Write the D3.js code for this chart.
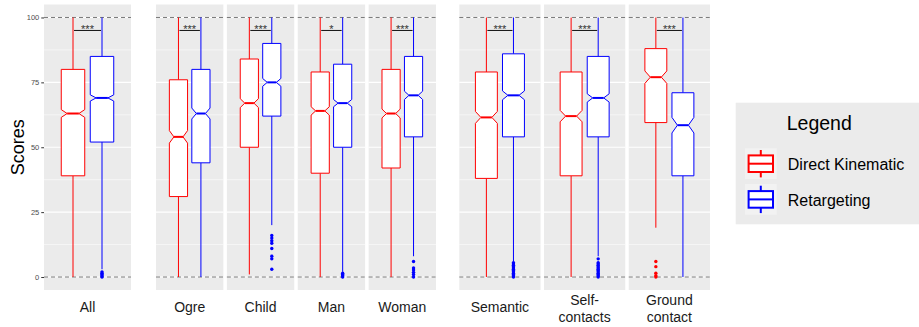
<!DOCTYPE html>
<html>
<head>
<meta charset="utf-8">
<script src="https://cdn.jsdelivr.net/npm/d3@7"></script>
<style>
  body { margin: 0; background: #fff; }
  svg { display: block; font-family: "Liberation Sans", Arial, Helvetica, sans-serif; }
</style>
</head>
<body>
<script>
// facets, in order, and which block of the figure each one sits in
const panels = ["All", "Ogre", "Child", "Man", "Woman", "Semantic", "Self-contacts", "Ground contact"];
const panelGroup = [0, 1, 1, 1, 1, 2, 2, 2];
const series = ["Direct Kinematic", "Retargeting"];
const colors = ["#ff0000", "#0000ff"];

// Direct Kinematic box stats
const dkLow   = [0, 0, 1, 0, 0, 0, 0, 19];
const dkQ1    = [39, 31, 50, 40, 42, 38, 39, 59.5];
const dkMed   = [63, 54, 67, 64, 63, 61.5, 62, 77];
const dkQ3    = [80, 76, 84, 79, 80, 79, 79, 88];
const dkHigh  = [100, 100, 100, 100, 100, 100, 100, 100];
const dkNotch = [1.5, 2.4, 1.7, 1.6, 1.7, 2.3, 2.2, 2.4];
const dkOut   = [[], [], [], [], [], [], [], [6, 4, 1.5, 0.5, 0]];

// Retargeting box stats
const rtLow   = [3, 0, 20, 2, 8, 6, 8, 0];
const rtQ1    = [52, 44, 62, 50, 54, 54, 54, 39];
const rtMed   = [69, 63, 75, 67, 70, 70, 69, 58.5];
const rtQ3    = [85, 80, 90, 82, 85, 86, 85, 71];
const rtHigh  = [100, 100, 100, 100, 100, 100, 100, 100];
const rtNotch = [1.2, 2.1, 1.5, 1.4, 1.6, 1.7, 1.6, 3];
const rtOut   = [
  [2, 1.5, 1, 0.5, 0],
  [],
  [16, 15, 14, 13, 11, 8, 7, 3],
  [1.5, 1, 0.5, 0],
  [6, 3.5, 2.7, 1.8, 1, 0],
  [5.5, 5, 4.5, 4, 3.5, 3, 2.5, 2, 1.5, 1, 0.5, 0],
  [7, 5.5, 5, 4.5, 4, 3.5, 3, 2.5, 2, 1.5, 1, 0.5, 0],
  []
];

const sigLabels = ["***", "***", "***", "*", "***", "***", "***", "***"];
const sigValue = 95;
const yTicks = [0, 25, 50, 75, 100];
const yMinor = [12.5, 37.5, 62.5, 87.5];
const refLines = [0, 100];

const width = 919, height = 327;
const groupRange = [[44, 131], [156, 436], [459.3, 710]];
const panelGap = 3.5;

const svg = d3.select("body").append("svg")
    .attr("width", width)
    .attr("height", height);

const y = d3.scaleLinear().domain([-5, 105]).range([290, 4.5]);

// one band scale per block of facets
const groupScales = groupRange.map((r, g) => {
  const names = panels.filter((p, i) => panelGroup[i] === g);
  const n = names.length;
  const step = (r[1] - r[0] + panelGap) / n;
  return d3.scaleBand().domain(names).range(r).paddingInner(n > 1 ? panelGap / step : 0);
});

const stats = panels.map((p, i) => [
  {low: dkLow[i], q1: dkQ1[i], med: dkMed[i], q3: dkQ3[i], high: dkHigh[i], notch: dkNotch[i], out: dkOut[i]},
  {low: rtLow[i], q1: rtQ1[i], med: rtMed[i], q3: rtQ3[i], high: rtHigh[i], notch: rtNotch[i], out: rtOut[i]}
]);

panels.forEach((name, i) => {
  const band = groupScales[panelGroup[i]];
  const x0 = band(name), w = band.bandwidth();
  const xs = d3.scalePoint().domain(series).range([x0, x0 + w]).padding(1);
  const boxW = w * 0.27;

  const g = svg.append("g");

  g.append("rect")
      .attr("x", x0).attr("y", y(105))
      .attr("width", w).attr("height", y(-5) - y(105))
      .attr("fill", "#ebebeb");

  g.selectAll("line.minor").data(yMinor).join("line")
      .attr("x1", x0).attr("x2", x0 + w)
      .attr("y1", d => y(d)).attr("y2", d => y(d))
      .attr("stroke", "#fff").attr("stroke-width", 0.55);

  g.selectAll("line.major").data(yTicks).join("line")
      .attr("x1", x0).attr("x2", x0 + w)
      .attr("y1", d => y(d)).attr("y2", d => y(d))
      .attr("stroke", "#fff").attr("stroke-width", 1.1);

  g.selectAll("line.ref").data(refLines).join("line")
      .attr("x1", x0).attr("x2", x0 + w)
      .attr("y1", d => y(d)).attr("y2", d => y(d))
      .attr("stroke", "#7a7a7a").attr("stroke-width", 1)
      .attr("stroke-dasharray", "4,3");

  stats[i].forEach((s, k) => {
    const cx = xs(series[k]);
    const col = colors[k];
    const l = cx - boxW / 2, r = cx + boxW / 2, ins = boxW * 0.25;

    // whiskers
    g.append("line").attr("x1", cx).attr("x2", cx)
        .attr("y1", y(s.q3)).attr("y2", y(s.high))
        .attr("stroke", col).attr("stroke-width", 1);
    g.append("line").attr("x1", cx).attr("x2", cx)
        .attr("y1", y(s.q1)).attr("y2", y(s.low))
        .attr("stroke", col).attr("stroke-width", 1);

    // notched box
    const pts = [
      [l, y(s.q3)], [r, y(s.q3)], [r, y(s.med + s.notch)], [r - ins, y(s.med)],
      [r, y(s.med - s.notch)], [r, y(s.q1)], [l, y(s.q1)], [l, y(s.med - s.notch)],
      [l + ins, y(s.med)], [l, y(s.med + s.notch)]
    ];
    g.append("path")
        .attr("d", d3.line()(pts) + "Z")
        .attr("fill", "#fff").attr("stroke", col).attr("stroke-width", 1);
    g.append("line")
        .attr("x1", l + ins).attr("x2", r - ins)
        .attr("y1", y(s.med)).attr("y2", y(s.med))
        .attr("stroke", col).attr("stroke-width", 2);

    g.selectAll(null).data(s.out).join("circle")
        .attr("cx", cx).attr("cy", d => y(d)).attr("r", 1.7)
        .attr("fill", col);
  });

  // significance bracket
  g.append("line")
      .attr("x1", xs(series[0]) + 1).attr("x2", xs(series[1]) - 1)
      .attr("y1", y(sigValue)).attr("y2", y(sigValue))
      .attr("stroke", "#111").attr("stroke-width", 1);
  g.append("text")
      .attr("x", (xs(series[0]) + xs(series[1])) / 2)
      .attr("y", y(sigValue) + 2.5)
      .attr("text-anchor", "middle")
      .attr("font-size", 11)
      .attr("fill", "#333")
      .text(sigLabels[i]);

  // facet label underneath
  const lines = name === "Self-contacts" ? ["Self-", "contacts"]
      : name === "Ground contact" ? ["Ground", "contact"] : [name];
  g.append("text")
      .attr("text-anchor", "middle")
      .attr("font-size", 14)
      .attr("fill", "#1a1a1a")
    .selectAll("tspan").data(lines).join("tspan")
      .attr("x", x0 + w / 2)
      .attr("y", (d, j) => lines.length === 1 ? 312 : 305 + j * 16.5)
      .text(d => d);
});

// y axis on the first block only
const yAxis = svg.append("g")
    .attr("transform", `translate(${groupRange[0][0]},0)`)
    .call(d3.axisLeft(y).tickValues(yTicks).tickSize(2.75).tickPadding(2));
yAxis.select(".domain").remove();
yAxis.selectAll(".tick line").attr("stroke", "#333");
yAxis.selectAll(".tick text")
    .attr("fill", "#4d4d4d")
    .attr("font-size", 7.5)
    .attr("font-family", "'Liberation Sans', Arial, sans-serif");

svg.append("text")
    .attr("transform", `translate(24,${(y(0) + y(100)) / 2}) rotate(-90)`)
    .attr("text-anchor", "middle")
    .attr("font-size", 18)
    .attr("fill", "#000")
    .text("Scores");

// legend
const legend = svg.append("g");
legend.append("rect")
    .attr("x", 735.7).attr("y", 102.7)
    .attr("width", 183.3).attr("height", 121.6)
    .attr("fill", "#ebebeb");
legend.append("text")
    .attr("x", 786.7).attr("y", 130)
    .attr("font-size", 19.5)
    .attr("fill", "#000")
    .text("Legend");

const key = legend.selectAll("g.key").data(series).join("g")
    .attr("transform", (d, k) => `translate(760.8,${163.7 + k * 35.7})`);
key.append("rect")
    .attr("x", -15.8).attr("y", -15.4).attr("width", 31.7).attr("height", 30.7)
    .attr("fill", "#f2f2f2");
key.append("line")
    .attr("x1", 0).attr("x2", 0).attr("y1", -13.7).attr("y2", 13.7)
    .attr("stroke", (d, k) => colors[k]).attr("stroke-width", 2);
key.append("rect")
    .attr("x", -12.2).attr("y", -8.3).attr("width", 24.4).attr("height", 16.6)
    .attr("fill", "#fff")
    .attr("stroke", (d, k) => colors[k]).attr("stroke-width", 2);
key.append("line")
    .attr("x1", -12.2).attr("x2", 12.2).attr("y1", 0).attr("y2", 0)
    .attr("stroke", (d, k) => colors[k]).attr("stroke-width", 2);
key.append("text")
    .attr("x", 27).attr("y", 6.3)
    .attr("font-size", 16)
    .attr("fill", "#000")
    .text(d => d);
</script>
</body>
</html>
